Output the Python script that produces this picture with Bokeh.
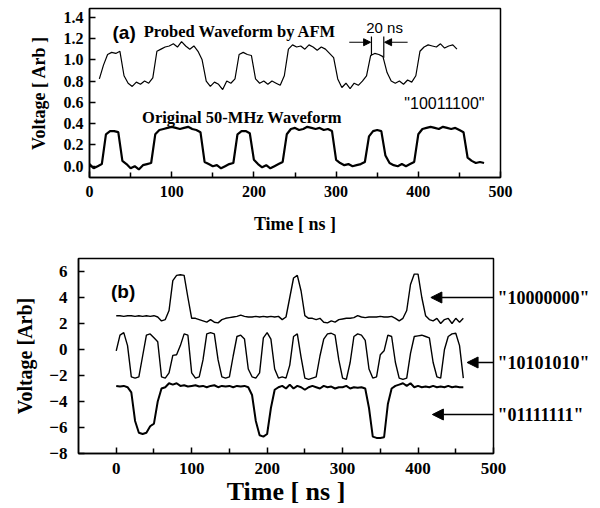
from bokeh.plotting import figure
from bokeh.models import (Range1d, FixedTicker, Label, Arrow, NormalHead, PrintfTickFormatter,
                          LinearAxis)
from bokeh.embed import file_html
from bokeh.resources import INLINE

# ---------------- data ----------------
# panel (a): sampling start / step in ns
a_probed_t0, a_step = 12, 5
a_probed = [0.82, 0.95, 1.05, 1.07, 1.06, 1.08, 0.85, 0.78, 0.75, 0.79,
            0.77, 0.80, 0.78, 0.83, 1.08, 1.10, 1.12, 1.13, 1.15, 1.12,
            1.17, 1.13, 1.10, 1.13, 1.08, 1.00, 0.80, 0.75, 0.79, 0.77,
            0.72, 0.80, 0.78, 0.82, 1.05, 1.07, 1.05, 1.04, 0.82, 0.78,
            0.80, 0.77, 0.80, 0.78, 0.76, 0.85, 1.10, 1.14, 1.12, 1.13,
            1.10, 1.14, 1.12, 1.09, 1.12, 1.10, 1.06, 1.02, 0.82, 0.74,
            0.78, 0.73, 0.78, 0.76, 0.80, 0.85, 1.04, 1.06, 1.05, 1.03,
            0.88, 0.80, 0.78, 0.80, 0.77, 0.81, 0.79, 0.85, 1.08, 1.12,
            1.14, 1.13, 1.12, 1.15, 1.11, 1.13, 1.14, 1.10]
a_orig_t0 = 0
a_orig = [0.02, -0.02, 0.00, 0.02, 0.30, 0.33, 0.33, 0.32, 0.05, 0.02,
          -0.02, 0.00, -0.03, 0.01, 0.02, 0.03, 0.30, 0.34, 0.35, 0.36,
          0.37, 0.36, 0.35, 0.36, 0.37, 0.35, 0.34, 0.32, 0.04, 0.02,
          0.00, 0.01, -0.02, 0.00, 0.02, 0.03, 0.30, 0.33, 0.33, 0.31,
          0.06, 0.02, -0.01, 0.01, -0.02, 0.00, 0.02, 0.04, 0.30, 0.35,
          0.36, 0.34, 0.35, 0.37, 0.36, 0.35, 0.36, 0.34, 0.35, 0.33,
          0.06, 0.03, 0.01, 0.02, 0.00, 0.01, 0.02, 0.04, 0.28, 0.33,
          0.34, 0.33, 0.10, 0.03, 0.01, 0.00, 0.02, 0.00, 0.02, 0.04,
          0.30, 0.35, 0.36, 0.37, 0.36, 0.35, 0.37, 0.36, 0.35, 0.36,
          0.34, 0.32, 0.08, 0.05, 0.03, 0.04, 0.03]

# panel (b): sampled from 0 ns every 5 ns
b_t0, b_step = 0, 5
b_10000000 = [2.6, 2.6, 2.55, 2.6, 2.6, 2.55, 2.6, 2.55, 2.6, 2.55,
              2.6, 2.5, 2.2, 2.3, 3.0, 5.3, 5.7, 5.75, 5.7, 4.0,
              2.4, 2.4, 2.3, 2.2, 2.1, 2.3, 2.1, 2.05, 2.3, 2.4,
              2.45, 2.5, 2.55, 2.65, 2.55, 2.5, 2.5, 2.55, 2.5, 2.55,
              2.5, 2.55, 2.5, 2.55, 2.3, 2.5, 4.0, 5.5, 5.7, 4.5,
              2.6, 2.4, 2.4, 2.3, 2.4, 2.1, 2.05, 2.2, 2.1, 2.3,
              2.35, 2.4, 2.4, 2.45, 2.6, 2.5, 2.45, 2.5, 2.5, 2.5,
              2.55, 2.5, 2.5, 2.55, 2.4, 2.2, 2.4, 3.0, 5.0, 5.8,
              5.8, 4.0, 2.6, 2.3, 2.2, 2.4, 2.0, 2.3, 2.4, 2.0,
              2.4, 2.1, 2.4]
b_10101010 = [-0.1, 1.1, 1.3, 0.3, -2.1, -2.2, -2.1, -0.5, 1.1, 1.2,
              0.9, 0.6, -2.1, -2.2, -1.8, -0.45, -0.4, 0.3, 1.2, 1.1,
              -1.8, -2.2, -2.1, -0.8, 1.2, 1.3, 1.2, -0.8, -2.1, -2.2,
              -2.1, -0.5, 1.0, 1.1, 0.8, -1.5, -2.1, -2.2, -1.8, 0.9,
              1.3, 0.8, -1.5, -2.2, -2.1, -2.2, -1.2, 1.0, 1.2, -0.6,
              -2.2, -2.3, -2.2, -2.1, -0.5, 0.8, 1.2, 1.25, 1.1, -0.8,
              -2.2, -2.3, -1.0, 1.0, 1.2, 1.1, 0.7, -1.5, -2.2, -2.1,
              -0.4, -0.1, 1.1, 1.0, -1.0, -2.2, -2.3, -2.2, -0.3, 1.0,
              1.05, 1.1, 1.0, 0.9, -1.0, -2.1, -2.2, 0.0, 1.0, 1.2,
              1.25, 0.3, -2.2]
b_01111111 = [-2.8, -2.85, -2.8, -2.9, -3.3, -5.5, -6.4, -6.5, -6.4, -5.9,
              -5.7, -4.0, -3.0, -2.9, -2.6, -2.7, -2.6, -2.8, -2.75, -2.85,
              -2.8, -2.75, -2.85, -2.8, -2.9, -2.8, -2.75, -2.9, -2.8, -2.85,
              -2.8, -2.9, -2.8, -2.85, -2.8, -2.9, -3.5, -5.5, -6.6, -6.7,
              -6.5, -4.5, -3.1, -2.9, -2.8, -3.0, -2.7, -3.0, -2.8, -2.9,
              -3.1, -2.9, -2.8, -2.9, -3.0, -2.8, -2.9, -2.85, -3.0, -2.9,
              -2.9, -2.8, -3.0, -2.9, -2.95, -2.9, -3.0, -4.5, -6.7, -6.8,
              -6.8, -6.75, -4.2, -3.0, -2.8, -2.7, -2.6, -2.8, -2.6, -2.9,
              -2.8, -2.9, -2.85, -2.9, -2.8, -2.9, -2.85, -2.9, -2.8, -2.9,
              -2.85, -2.9, -2.9]

a_xticks = [0, 100, 200, 300, 400, 500]
a_yticks = [0.0, 0.2, 0.4, 0.6, 0.8, 1.0, 1.2, 1.4]
b_xticks = [0, 100, 200, 300, 400, 500]
b_yticks = [-8, -6, -4, -2, 0, 2, 4, 6]
bit_labels = ['"10000000"', '"10101010"', '"01111111"']
bit_label_y = [4, -1, -5]
bit_arrow_end = [417, 465, 419]


def times(t0, step, vals):
    return [t0 + step * i for i in range(len(vals))]


SERIF = "Liberation Serif"
SANS = "Liberation Sans"


def style(p, tick_size, ylab_standoff, xlab_standoff, xstand, ystand):
    p.xgrid.visible = False
    p.ygrid.visible = False
    p.outline_line_color = "black"
    p.outline_line_width = 1.5
    p.outline_line_alpha = 1.0
    p.background_fill_color = "white"
    p.border_fill_color = "white"
    for ax in (p.xaxis[0], p.yaxis[0]):
        ax.axis_line_width = 1.5
        ax.axis_line_color = "black"
        ax.major_tick_in = 6
        ax.major_tick_out = 0
        ax.minor_tick_in = 5
        ax.minor_tick_out = 0
        ax.major_tick_line_width = 1.5
        ax.minor_tick_line_width = 1.5
        ax.major_label_text_font = SERIF
        ax.major_label_text_font_style = "bold"
        ax.major_label_text_font_size = tick_size
        ax.major_label_text_color = "black"
        ax.axis_label_text_font = SERIF
        ax.axis_label_text_font_style = "bold"
        ax.axis_label_text_color = "black"
    p.xaxis[0].major_label_standoff = xstand
    p.yaxis[0].major_label_standoff = ystand
    p.xaxis[0].axis_label_standoff = xlab_standoff
    p.yaxis[0].axis_label_standoff = ylab_standoff


# ---------------- panel (a) ----------------
pa = figure(width=600, height=240, output_backend="svg", toolbar_location=None,
            x_range=Range1d(0, 500), y_range=Range1d(-0.106, 1.482),
            min_border_left=89, min_border_right=100, min_border_top=8, min_border_bottom=63)
style(pa, "16px", 12, 14, 8, 6)
pa.xaxis.ticker = FixedTicker(ticks=a_xticks, minor_ticks=[50, 150, 250, 350, 450])
pa.yaxis.ticker = FixedTicker(ticks=a_yticks, minor_ticks=[])
pa.yaxis.formatter = PrintfTickFormatter(format="%.1f")
pa.xaxis.axis_label = "Time [ ns ]"
pa.yaxis.axis_label = "Voltage [ Arb ]"
pa.xaxis.axis_label_text_font_size = "18px"
pa.yaxis.axis_label_text_font_size = "18px"

pa.line(times(a_probed_t0, a_step, a_probed), a_probed, line_color="black", line_width=1.2)
pa.line(times(a_orig_t0, a_step, a_orig), a_orig, line_color="black", line_width=2.2)

pa.add_layout(Label(x=28, y=1.257, text="(a)", text_font=SANS, text_font_style="bold",
                    text_font_size="19px", text_baseline="middle", text_color="black"))
pa.add_layout(Label(x=66, y=1.262, text="Probed Waveform by AFM", text_font=SERIF,
                    text_font_style="bold", text_font_size="16.5px", text_baseline="middle",
                    text_color="black"))
pa.add_layout(Label(x=64, y=0.458, text="Original 50-MHz Waveform", text_font=SERIF,
                    text_font_style="bold", text_font_size="16.5px", text_baseline="middle",
                    text_color="black"))
pa.add_layout(Label(x=359, y=1.30, text="20 ns", text_font=SANS, text_font_size="15px",
                    text_align="center", text_baseline="middle", text_color="black"))
pa.add_layout(Label(x=383, y=0.589, text='"10011100"', text_font=SANS, text_font_size="16px",
                    text_baseline="middle", text_color="black"))
pa.segment(x0=[343, 358], y0=[1.22, 1.22], x1=[343, 358], y1=[1.04, 1.02],
           line_color="black", line_width=1.2)
pa.add_layout(Arrow(x_start=316, y_start=1.165, x_end=342, y_end=1.165, line_width=1.2,
                    end=NormalHead(size=7, fill_color="black", line_color="black")))
pa.add_layout(Arrow(x_start=387, y_start=1.165, x_end=359, y_end=1.165, line_width=1.2,
                    end=NormalHead(size=7, fill_color="black", line_color="black")))

# ---------------- panel (b) ----------------
pb = figure(width=600, height=268, output_backend="svg", toolbar_location=None,
            x_range=Range1d(-50, 500), y_range=Range1d(-8, 7),
            min_border_left=78, min_border_right=107, min_border_top=18, min_border_bottom=55)
style(pb, "17px", 10, 0, 9, 11)
pb.xaxis.ticker = FixedTicker(ticks=b_xticks, minor_ticks=[50, 150, 250, 350, 450])
pb.yaxis.ticker = FixedTicker(ticks=b_yticks, minor_ticks=[])
pb.xaxis.axis_label = "Time [ ns ]"
pb.yaxis.axis_label = "Voltage [Arb]"
pb.xaxis.axis_label_text_font_size = "26px"
pb.yaxis.axis_label_text_font_size = "20px"

pb.line(times(b_t0, b_step, b_10000000), b_10000000, line_color="black", line_width=1.4)
pb.line(times(b_t0, b_step, b_10101010), b_10101010, line_color="black", line_width=1.4)
pb.line(times(b_t0, b_step, b_01111111), b_01111111, line_color="black", line_width=2.0)

pb.add_layout(Label(x=-7, y=4.5, text="(b)", text_font=SANS, text_font_style="bold",
                    text_font_size="19px", text_baseline="middle", text_color="black"))
for yy, xend in zip(bit_label_y, bit_arrow_end):
    pb.add_layout(Arrow(x_start=505, y_start=yy, x_end=xend, y_end=yy, line_width=1.5,
                        end=NormalHead(size=11, fill_color="black", line_color="black")))

# bit-pattern labels in the right margin, as a label-only right axis
bit_axis = LinearAxis(ticker=FixedTicker(ticks=bit_label_y, minor_ticks=[]),
                      major_label_overrides=dict(zip(bit_label_y, bit_labels)),
                      axis_line_color=None, major_tick_line_color=None,
                      minor_tick_line_color=None, major_tick_in=0, major_tick_out=0,
                      minor_tick_in=0, minor_tick_out=0, major_label_standoff=4,
                      major_label_text_font=SERIF, major_label_text_font_style="bold",
                      major_label_text_font_size="18px", major_label_text_color="black")
pb.add_layout(bit_axis, "right")

# two separate roots, stacked, so the two panels keep their own frame borders
open("out.html", "w").write(file_html([pa, pb], INLINE))
